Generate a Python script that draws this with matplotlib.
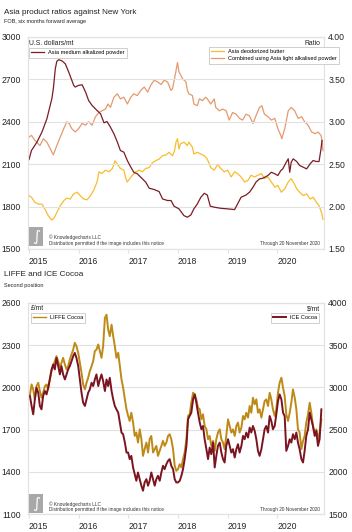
import matplotlib
matplotlib.use("Agg")
import matplotlib.pyplot as plt
import matplotlib.patches as patches
import matplotlib.transforms as mtransforms
from matplotlib import font_manager
import pandas as pd

W, H = 352, 532

names = {f.name for f in font_manager.fontManager.ttflist}
narrow = "Liberation Sans Narrow" if "Liberation Sans Narrow" in names else "Liberation Sans"
plt.rcParams["font.family"] = [narrow, "DejaVu Sans"]

# ---------------- top chart data ----------------
powder_yr = [2015.0, 2015.05, 2015.16, 2015.26, 2015.36, 2015.46, 2015.49, 2015.53, 2015.56, 2015.6,
             2015.66, 2015.73, 2015.8, 2015.9, 2015.93, 2016.0, 2016.07, 2016.14, 2016.2, 2016.27,
             2016.37, 2016.44, 2016.51, 2016.57, 2016.64, 2016.71, 2016.78, 2016.84, 2016.91, 2016.98,
             2017.05, 2017.11, 2017.18, 2017.25, 2017.35, 2017.42, 2017.52, 2017.62, 2017.69, 2017.79,
             2017.86, 2017.92, 2018.02, 2018.12, 2018.19, 2018.26, 2018.32, 2018.39, 2018.46, 2018.53,
             2018.59, 2018.65, 2018.73, 2018.86, 2019.0, 2019.14, 2019.2, 2019.27, 2019.37, 2019.44,
             2019.51, 2019.57, 2019.64, 2019.71, 2019.81, 2019.88, 2019.95, 2020.01, 2020.07, 2020.11,
             2020.18, 2020.22, 2020.25, 2020.28, 2020.32, 2020.39, 2020.45, 2020.52, 2020.59, 2020.66,
             2020.72, 2020.79, 2020.84, 2020.88, 2020.9]
powder_usd = [2133, 2197, 2256, 2327, 2421, 2563, 2634, 2776, 2828, 2839,
              2832, 2811, 2752, 2658, 2646, 2658, 2662, 2610, 2551, 2516,
              2480, 2457, 2393, 2402, 2362, 2315, 2256, 2197, 2185, 2126,
              2079, 2043, 2032, 2008, 1973, 1930, 1921, 1906, 1854, 1843,
              1843, 1803, 1784, 1736, 1725, 1741, 1784, 1819, 1866, 1894,
              1882, 1803, 1796, 1788, 1784, 1779, 1819, 1866, 1882, 1902,
              1937, 1973, 1996, 2001, 2020, 2043, 2032, 2020, 2055, 2067,
              2114, 2138, 2043, 2114, 2138, 2119, 2091, 2079, 2067, 2102,
              2126, 2119, 2119, 2209, 2268]

combined_yr = [2015.0, 2015.05, 2015.12, 2015.22, 2015.29, 2015.36, 2015.43, 2015.49, 2015.56, 2015.63,
               2015.7, 2015.76, 2015.81, 2015.86, 2015.93, 2016.0, 2016.07, 2016.14, 2016.2, 2016.27,
               2016.34, 2016.41, 2016.47, 2016.54, 2016.59, 2016.64, 2016.71, 2016.78, 2016.84, 2016.91,
               2016.98, 2017.05, 2017.11, 2017.18, 2017.25, 2017.32, 2017.39, 2017.45, 2017.52, 2017.59,
               2017.66, 2017.72, 2017.79, 2017.86, 2017.89, 2017.95, 2017.99, 2018.02, 2018.09, 2018.16,
               2018.19, 2018.22, 2018.29, 2018.32, 2018.39, 2018.43, 2018.49, 2018.56, 2018.59, 2018.66,
               2018.73, 2018.76, 2018.83, 2018.9, 2018.97, 2019.03, 2019.1, 2019.17, 2019.24, 2019.3,
               2019.37, 2019.44, 2019.51, 2019.57, 2019.64, 2019.69, 2019.74, 2019.81, 2019.88, 2019.95,
               2020.01, 2020.07, 2020.09, 2020.15, 2020.22, 2020.28, 2020.35, 2020.42, 2020.49, 2020.55,
               2020.62, 2020.69, 2020.76, 2020.82, 2020.88, 2020.9, 2020.92]
combined_ratio = [2.82, 2.84, 2.78, 2.72, 2.80, 2.76, 2.68, 2.61, 2.72, 2.82,
                  2.92, 3.00, 2.98, 2.92, 2.88, 2.92, 2.98, 2.96, 3.00, 2.96,
                  3.06, 3.11, 3.13, 3.15, 3.21, 3.17, 3.29, 3.33, 3.27, 3.29,
                  3.21, 3.29, 3.33, 3.31, 3.37, 3.41, 3.35, 3.43, 3.49, 3.47,
                  3.44, 3.49, 3.47, 3.37, 3.39, 3.57, 3.70, 3.59, 3.51, 3.47,
                  3.37, 3.33, 3.31, 3.21, 3.19, 3.27, 3.25, 3.29, 3.27, 3.21,
                  3.27, 3.17, 3.13, 3.15, 3.13, 3.02, 3.11, 3.09, 3.04, 3.02,
                  3.09, 3.07, 2.98, 3.07, 3.17, 3.19, 3.09, 3.06, 3.02, 3.04,
                  2.92, 2.84, 2.80, 2.92, 3.13, 3.17, 3.13, 3.04, 3.06, 3.00,
                  2.96, 2.88, 2.86, 2.88, 2.84, 2.78, 2.66]

butter_yr = [2015.0, 2015.05, 2015.12, 2015.19, 2015.26, 2015.32, 2015.39, 2015.46, 2015.51, 2015.56,
             2015.63, 2015.7, 2015.76, 2015.83, 2015.9, 2015.97, 2016.03, 2016.1, 2016.17, 2016.24,
             2016.3, 2016.37, 2016.41, 2016.47, 2016.54, 2016.61, 2016.68, 2016.73, 2016.78, 2016.84,
             2016.91, 2016.95, 2016.98, 2017.03, 2017.08, 2017.15, 2017.22, 2017.28, 2017.35, 2017.42,
             2017.49, 2017.55, 2017.62, 2017.69, 2017.76, 2017.82, 2017.89, 2017.93, 2017.96, 2017.99,
             2018.02, 2018.05, 2018.12, 2018.19, 2018.22, 2018.29, 2018.32, 2018.39, 2018.46, 2018.53,
             2018.59, 2018.66, 2018.73, 2018.8, 2018.86, 2018.93, 2019.0, 2019.07, 2019.14, 2019.2,
             2019.27, 2019.34, 2019.41, 2019.47, 2019.54, 2019.61, 2019.68, 2019.74, 2019.81, 2019.88,
             2019.95, 2020.01, 2020.08, 2020.15, 2020.22, 2020.28, 2020.34, 2020.39, 2020.45, 2020.52,
             2020.59, 2020.66, 2020.72, 2020.79, 2020.84, 2020.89, 2020.92]
butter_ratio = [2.13, 2.11, 2.05, 2.03, 2.03, 1.97, 1.89, 1.84, 1.87, 1.93,
                2.01, 2.07, 2.10, 2.09, 2.15, 2.17, 2.13, 2.09, 2.08, 2.13,
                2.19, 2.29, 2.41, 2.39, 2.43, 2.41, 2.45, 2.54, 2.50, 2.45,
                2.43, 2.33, 2.29, 2.33, 2.37, 2.41, 2.43, 2.41, 2.45, 2.46,
                2.52, 2.54, 2.56, 2.60, 2.61, 2.64, 2.60, 2.66, 2.76, 2.80,
                2.68, 2.74, 2.76, 2.72, 2.76, 2.70, 2.62, 2.64, 2.62, 2.60,
                2.56, 2.46, 2.43, 2.50, 2.45, 2.41, 2.43, 2.35, 2.41, 2.39,
                2.35, 2.29, 2.31, 2.37, 2.35, 2.37, 2.39, 2.33, 2.35, 2.29,
                2.23, 2.25, 2.17, 2.21, 2.29, 2.33, 2.27, 2.21, 2.17, 2.13,
                2.15, 2.09, 2.11, 2.05, 2.01, 1.93, 1.85]

# ---------------- bottom chart data ----------------
liffe_gbp = [1950, 2021, 1986, 1915, 2009, 2033, 1974, 1927, 1962, 2009, 2021, 1986, 2057, 2116, 2151,
             2187, 2222, 2187, 2139, 2175, 2210, 2163, 2128, 2151, 2198, 2234, 2269, 2317, 2293, 2246,
             2175, 2104, 2021, 1986, 2033, 2069, 2116, 2151, 2187, 2258, 2269, 2305, 2258, 2210, 2293,
             2494, 2517, 2411, 2364, 2446, 2364, 2293, 2210, 2246, 2151, 2057, 1998, 1915, 1844, 1797,
             1761, 1820, 1750, 1655, 1679, 1608, 1702, 1632, 1513, 1561, 1608, 1537, 1632, 1655, 1537,
             1561, 1584, 1513, 1549, 1584, 1620, 1584, 1608, 1655, 1667, 1632, 1561, 1443, 1407,
             1419, 1454, 1431, 1490, 1537, 1632, 1797, 1809, 1891, 1962, 1950, 1915, 1856, 1844, 1773,
             1809, 1726, 1702, 1632, 1655, 1584, 1620, 1549, 1632, 1679, 1702, 1632, 1608, 1561, 1655,
             1773, 1726, 1679, 1702, 1655, 1726, 1750, 1679, 1714, 1797, 1773, 1820, 1785, 1868, 1820,
             1927, 1880, 1915, 1820, 1844, 1785, 1844, 1903, 1915, 1868, 1962, 1915, 1844, 1797, 1844,
             1962, 2033, 2069, 1998, 1939, 1809, 1761, 1820, 1891, 1986, 1927, 1844, 1702, 1679, 1561,
             1620, 1655, 1750, 1809, 1891, 1820, 1726, 1679, 1702, 1632, 1679, 1773]
ice_usd = [2898, 2780, 2681, 2858, 2996, 2937, 2780, 2740, 2898, 2957, 2917, 2996, 3094, 3213, 3272,
           3213, 3350, 3252, 3154, 3252, 3154, 3094, 3154, 3213, 3252, 3311, 3370, 3409, 3350, 3252,
           3094, 2937, 2819, 2780, 2858, 2937, 2976, 3055, 3016, 3094, 3154, 3016, 3094, 3154, 3075,
           2957, 3094, 3016, 3114, 2957, 2858, 2780, 2740, 2701, 2583, 2465, 2445, 2346, 2228, 2228,
           2150, 2189, 2051, 1972, 1894, 1992, 1913, 1835, 1776, 1874, 1913, 1835, 1894, 1992, 1913,
           1835, 1913, 1953, 1894, 1992, 2071, 2031, 2091, 2130, 2150, 2071, 2031, 1913, 1874,
           1874, 1894, 1953, 2031, 2150, 2307, 2622, 2661, 2701, 2858, 2917, 2819, 2701, 2583, 2504,
           2543, 2386, 2268, 2150, 2287, 2209, 2346, 2051, 2189, 2307, 2346, 2228, 2150, 2110, 2307,
           2386, 2307, 2228, 2268, 2169, 2268, 2327, 2228, 2307, 2425, 2386, 2465, 2405, 2524, 2465,
           2543, 2484, 2386, 2248, 2189, 2268, 2386, 2504, 2543, 2465, 2661, 2602, 2504, 2543, 2681,
           2839, 2917, 2858, 2701, 2661, 2248, 2307, 2386, 2346, 2445, 2386, 2465, 2346, 2268, 2150,
           2110, 2248, 2425, 2504, 2701, 2622, 2543, 2425, 2484, 2307, 2386, 2740]
cocoa_dates = pd.date_range("2015-01-08", "2020-11-20", periods=len(liffe_gbp))
cocoa_yr = (cocoa_dates.year + (cocoa_dates.dayofyear - 1) / 365.25).to_numpy()

years = [2015, 2016, 2017, 2018, 2019, 2020]

MAROON = "#7b1c25"
SALMON = "#e39a6f"
YELLOW = "#f7bd2d"
GOLD = "#bd8a17"
GRID = "#e2e2e2"
TXT = "#222222"

fig = plt.figure(figsize=(W / 100, H / 100), dpi=100)


def fx(px):
    return px / W


def fy(py):
    return 1 - py / H


def make_axes(top, bottom):
    ax = fig.add_axes([fx(28), fy(bottom), fx(324) - fx(28), fy(top) - fy(bottom)])
    ax2 = ax.twinx()
    ax.set_xlim(2014.98, 2020.94)
    ax.set_xticks(years)
    ax.set_xticklabels([str(y) for y in years], ha="left")
    off = mtransforms.ScaledTranslation(-2 / 100, 0, fig.dpi_scale_trans)
    for lab in ax.get_xticklabels():
        lab.set_transform(lab.get_transform() + off)
    ax.tick_params(axis="x", length=3, color=GRID, labelsize=6.2, pad=3, labelcolor=TXT)
    ax.tick_params(axis="y", length=0, labelsize=6.2, pad=5, labelcolor=TXT)
    ax2.tick_params(axis="y", length=0, labelsize=6.2, pad=3, labelcolor=TXT)
    ax.grid(axis="y", color=GRID, lw=0.8)
    for a in (ax, ax2):
        for s in a.spines.values():
            s.set_color(GRID)
            s.set_linewidth(0.8)
    ax.patch.set_visible(False)
    return ax, ax2


def watermark(py, through):
    fig.patches.append(patches.Rectangle((fx(29), fy(py + 19)), fx(14), 19 / H,
                                         transform=fig.transFigure, facecolor="#a8a8a8",
                                         edgecolor="none", zorder=5))
    fig.text(fx(36), fy(py + 9.5), "\u222b", color="white", fontsize=11, ha="center", va="center",
             family="DejaVu Sans", zorder=6)
    fig.text(fx(49), fy(py + 10), "\u00a9 Knowledgecharts LLC", fontsize=3.4, color="#333333", va="center")
    fig.text(fx(49), fy(py + 16), "Distribution permitted if the image includes this notice",
             fontsize=3.4, color="#333333", va="center")
    fig.text(fx(320), fy(py + 16), through, fontsize=3.4, color="#333333", va="center", ha="right")


leg_kw = dict(frameon=True, fancybox=False, edgecolor="#c8c8c8", framealpha=1, fontsize=4.1,
              borderpad=0.4, handlelength=2.2, handletextpad=0.7, borderaxespad=0, labelspacing=0.35)

# ---------------- top chart ----------------
fig.text(fx(4), fy(12), "Asia product ratios against New York", fontsize=5.9, color=TXT, va="center")
fig.text(fx(4), fy(22), "FOB, six months forward average", fontsize=4.0, color=TXT, va="center")

ax1, ax1r = make_axes(37, 249)
ax1.set_ylim(1500, 3000)
ax1.set_yticks([1500, 1800, 2100, 2400, 2700, 3000])
ax1r.set_ylim(1.5, 4.0)
ax1r.set_yticks([1.5, 2.0, 2.5, 3.0, 3.5, 4.0])
ax1r.set_yticklabels(["%.2f" % v for v in [1.5, 2.0, 2.5, 3.0, 3.5, 4.0]])

l_butter, = ax1r.plot(butter_yr, butter_ratio, color=YELLOW, lw=0.9)
l_comb, = ax1r.plot(combined_yr, combined_ratio, color=SALMON, lw=0.9)
l_powder, = ax1r.plot([], [], color=MAROON, lw=0.9)
ax1.plot(powder_yr, powder_usd, color=MAROON, lw=0.9)
ax1.set_zorder(3)

fig.text(fx(29), fy(44), "U.S. dollars/mt", fontsize=4.9, color=TXT, va="center")
fig.text(fx(320), fy(44), "Ratio", fontsize=4.9, color=TXT, va="center", ha="right")

lg = fig.legend([l_powder], ["Asia medium alkalized powder"], loc="upper left",
                bbox_to_anchor=(fx(29), fy(48)), **leg_kw)
lg.get_frame().set_linewidth(0.6)
lg = fig.legend([l_butter, l_comb], ["Asia deodorized butter", "Combined using Asia light alkalised powder"],
                loc="upper right", bbox_to_anchor=(fx(339), fy(47)), **leg_kw)
lg.get_frame().set_linewidth(0.6)
watermark(227, "Through 20 November 2020")

# ---------------- bottom chart ----------------
fig.text(fx(4), fy(275), "LIFFE and ICE Cocoa", fontsize=5.9, color=TXT, va="center")
fig.text(fx(4), fy(285), "Second position", fontsize=4.0, color=TXT, va="center")

ax2, ax2r = make_axes(303, 514)
ax2.set_ylim(1100, 2600)
ax2.set_yticks([1100, 1400, 1700, 2000, 2300, 2600])
ax2r.set_ylim(1500, 4000)
ax2r.set_yticks([1500, 2000, 2500, 3000, 3500, 4000])

l_ice, = ax2r.plot(cocoa_yr, ice_usd, color="#7a1420", lw=1.4)
l_liffe, = ax2r.plot([], [], color=GOLD, lw=1.0)
ax2.plot(cocoa_yr, liffe_gbp, color=GOLD, lw=1.4)
ax2.set_zorder(1)
ax2r.set_zorder(2)

fig.text(fx(31), fy(309), "\u00a3/mt", fontsize=4.9, color=TXT, va="center")
fig.text(fx(320), fy(309), "$/mt", fontsize=4.9, color=TXT, va="center", ha="right")
lg = fig.legend([l_liffe], ["LIFFE Cocoa"], loc="upper left", bbox_to_anchor=(fx(31), fy(313)), **leg_kw)
lg.get_frame().set_linewidth(0.6)
lg = fig.legend([l_ice], ["ICE Cocoa"], loc="upper right", bbox_to_anchor=(fx(319), fy(313)), **leg_kw)
lg.get_frame().set_linewidth(0.6)
watermark(494, "Through 20 November 2020")

fig.savefig("out.png", dpi=100)
